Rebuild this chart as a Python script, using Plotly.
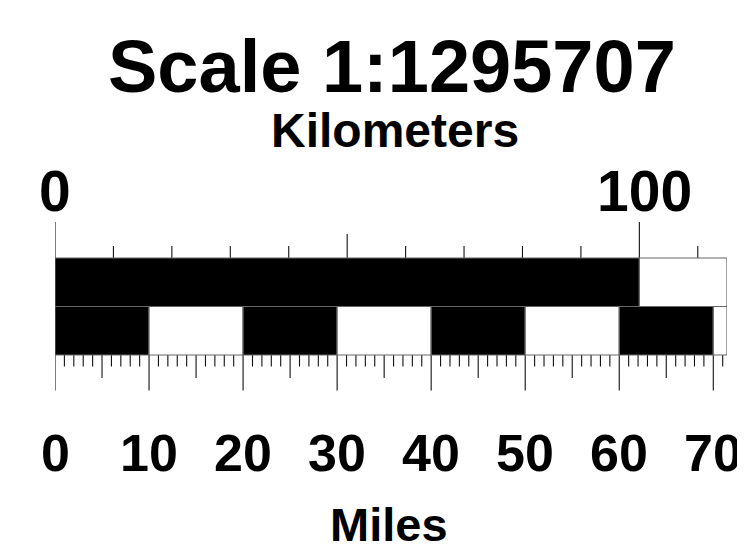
import plotly.graph_objects as go

# ---- data ----
SCALE = 1295707
KM_PER_MILE = 1.609344
BAR_END_KM = 115.0                       # right end of the scale bar (km)
km_edges = [0, 100, BAR_END_KM]          # kilometre bar segments
km_fill = ["black", "white"]
mile_edges = [0, 10, 20, 30, 40, 50, 60, 70, BAR_END_KM / KM_PER_MILE]
mile_fill = ["black", "white", "black", "white", "black", "white", "black", "white"]
km_ticks = [0, 10, 20, 30, 40, 50, 60, 70, 80, 90, 100, 110]
km_labels = ["0", "100"]
km_label_vals = [0, 100]
mile_ticks = list(range(0, 72))
mile_label_vals = [0, 10, 20, 30, 40, 50, 60, 70]
mile_labels = [str(v) for v in mile_label_vals]

# ---- layout constants (window-pixel-like y coordinates, top = 0) ----
WIN_W, WIN_H, OFF = 745, 556, 8          # page body margin offsets the figure by 8px
W, H = WIN_W - OFF, WIN_H - OFF
PLOT_L, PLOT_R = 55, 727
KM_TOP, MID, MI_BOT = 258, 306.5, 355
LINE = dict(color="#111", width=1.1)
EDGE = dict(color="#666", width=1.2)
FONT = "Liberation Sans, Arial, sans-serif"

fig = go.Figure()
shapes = []
for i, c in enumerate(km_fill):
    shapes.append(dict(type="rect", xref="x", yref="y", x0=km_edges[i], x1=km_edges[i + 1],
                       y0=KM_TOP, y1=MID, fillcolor=c, line=EDGE, layer="above"))
for i, c in enumerate(mile_fill):
    shapes.append(dict(type="rect", xref="x", yref="y", x0=mile_edges[i] * KM_PER_MILE,
                       x1=mile_edges[i + 1] * KM_PER_MILE, y0=MID, y1=MI_BOT, fillcolor=c,
                       line=EDGE, layer="above"))

kx, ky = [], []
for t in km_ticks:
    L = 36 if t % 100 == 0 else (24 if t % 50 == 0 else 12)
    kx += [t, t, None]
    ky += [KM_TOP, KM_TOP - L, None]
fig.add_trace(go.Scatter(x=kx, y=ky, mode="lines", line=LINE, hoverinfo="skip", showlegend=False))

mx, my = [], []
for t in mile_ticks:
    L = 35.5 if t % 10 == 0 else (23 if t % 5 == 0 else 11.5)
    x = t * KM_PER_MILE
    mx += [x, x, None]
    my += [MI_BOT, MI_BOT + L, None]
fig.add_trace(go.Scatter(x=mx, y=my, mode="lines", line=LINE, hoverinfo="skip", showlegend=False))

ann = []
def txt(text, x, y, size, xref="x"):
    ann.append(dict(text=text, x=x, y=y, xref=xref, yref="y", showarrow=False,
                    xanchor="center", yanchor="middle",
                    font=dict(family=FONT, size=size, color="black", weight="bold")))

def px_to_paper(px):
    return (px - PLOT_L) / (PLOT_R - PLOT_L)

txt("Scale 1:%d" % SCALE, px_to_paper(391.5), 66, 74, xref="paper")
txt("Kilometers", px_to_paper(394.5), 130, 48, xref="paper")
for v, s in zip(km_label_vals, km_labels):
    txt(s, v + (0 if v == 0 else 0.8), 191, 57)
for v, s in zip(mile_label_vals, mile_labels):
    txt(s, v * KM_PER_MILE, 453, 52)
txt("Miles", px_to_paper(389), 524, 47, xref="paper")

fig.update_layout(
    width=W, height=H, margin=dict(l=PLOT_L - OFF, r=W + OFF - PLOT_R, t=0, b=0),
    paper_bgcolor="white", plot_bgcolor="white",
    xaxis=dict(range=[0, BAR_END_KM], visible=False),
    yaxis=dict(range=[H + OFF, OFF], visible=False),
    shapes=shapes, annotations=ann, showlegend=False,
)
fig.write_html("out.html")
